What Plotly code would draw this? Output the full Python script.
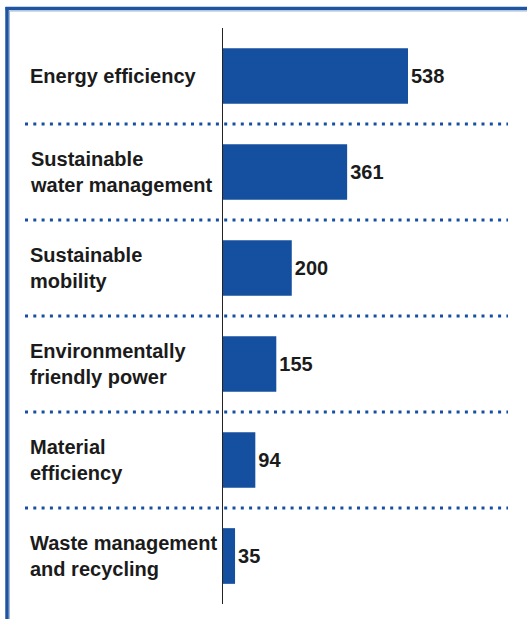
import plotly.graph_objects as go

categories = ["Energy efficiency", "Sustainable<br>water management", "Sustainable<br>mobility",
              "Environmentally<br>friendly power", "Material<br>efficiency", "Waste management<br>and recycling"]
values = [538, 361, 200, 155, 94, 35]

W, H = 527, 619
L, R, T, B = 223, 17, 28, 15
pw, ph = W - L - R, H - T - B

def px_x(p):
    return (p - L) / pw

def px_y(p):
    return (H - B - p) / ph

BLUE = "#14509f"
TXT = "#1b1b1b"
FONT = "Liberation Sans, Arial, sans-serif"

fig = go.Figure()
fig.add_trace(go.Bar(
    y=list(range(len(categories))), x=values, orientation="h",
    marker=dict(color=BLUE, line=dict(width=0)), width=0.58,
    text=[str(v) for v in values], textposition="outside",
    textfont=dict(family=FONT, size=20, color=TXT, weight="bold"),
    cliponaxis=False, hoverinfo="skip",
))

shapes = []
# dotted separators
for i in range(len(categories) - 1):
    shapes.append(dict(type="line", xref="paper", yref="y", x0=px_x(25), x1=px_x(508),
                       y0=i + 0.5, y1=i + 0.5,
                       line=dict(color=BLUE, width=3, dash="3px,5.3px")))
# frame: top and left lines
shapes.append(dict(type="line", xref="paper", yref="paper", x0=px_x(5.5), x1=px_x(530),
                   y0=px_y(8.5), y1=px_y(8.5), line=dict(color="#1f54a0", width=3.5)))
shapes.append(dict(type="line", xref="paper", yref="paper", x0=px_x(7), x1=px_x(7),
                   y0=px_y(7), y1=px_y(625), line=dict(color="#1f54a0", width=3.5)))
shapes.append(dict(type="line", xref="paper", yref="paper", x0=px_x(9.5), x1=px_x(9.5),
                   y0=px_y(11), y1=px_y(625), line=dict(color="#9fb8dc", width=1)))
shapes.append(dict(type="line", xref="paper", yref="paper", x0=px_x(9.5), x1=px_x(530),
                   y0=px_y(11), y1=px_y(11), line=dict(color="#9fb8dc", width=1)))

annotations = []
for i, c in enumerate(categories):
    annotations.append(dict(xref="paper", yref="y", x=px_x(28), y=i, text=c,
                            xanchor="left", yanchor="middle", align="left", showarrow=False,
                            font=dict(family=FONT, size=20, color=TXT, weight="bold")))

fig.update_layout(
    width=W, height=H, margin=dict(l=L, r=R, t=T, b=B),
    paper_bgcolor="white", plot_bgcolor="white",
    showlegend=False, shapes=shapes, annotations=annotations,
    xaxis=dict(range=[0, pw / (185 / 538)], visible=False, fixedrange=True),
    yaxis=dict(range=[5.5, -0.5], showticklabels=False, ticks="", showgrid=False,
               zeroline=False, showline=True, linecolor="#222222", linewidth=1.3),
    font=dict(family=FONT),
)

fig.write_html("out.html")
